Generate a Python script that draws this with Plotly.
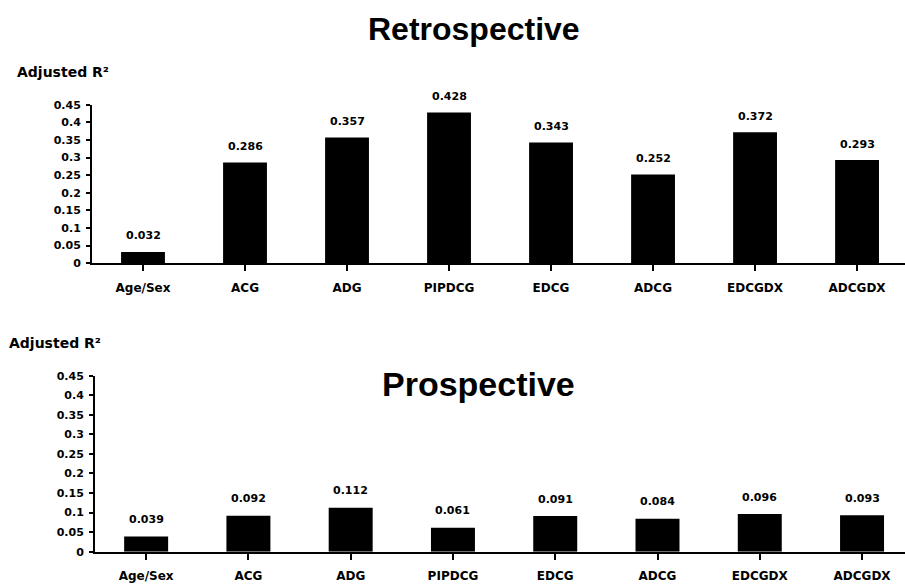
import plotly.graph_objects as go

categories = ["Age/Sex", "ACG", "ADG", "PIPDCG", "EDCG", "ADCG", "EDCGDX", "ADCGDX"]
retro_values = [0.032, 0.286, 0.357, 0.428, 0.343, 0.252, 0.372, 0.293]
retro_labels = ["0.032", "0.286", "0.357", "0.428", "0.343", "0.252", "0.372", "0.293"]
prosp_values = [0.039, 0.092, 0.112, 0.061, 0.091, 0.084, 0.096, 0.093]
prosp_labels = ["0.039", "0.092", "0.112", "0.061", "0.091", "0.084", "0.096", "0.093"]
y_tickvals = [0, 0.05, 0.1, 0.15, 0.2, 0.25, 0.3, 0.35, 0.4, 0.45]
y_ticktext = ["0", "0.05", "0.1", "0.15", "0.2", "0.25", "0.3", "0.35", "0.4", "0.45"]

W, H = 905, 588
small = dict(family="DejaVu Sans", size=11, color="black", weight="bold")
cat_font = dict(family="DejaVu Sans", size=12, color="black", weight="bold")

fig = go.Figure()
fig.add_trace(go.Bar(x=list(range(len(categories))), y=retro_values, marker=dict(color="black", line=dict(width=0)),
                     xaxis="x", yaxis="y", showlegend=False, hoverinfo="skip"))
fig.add_trace(go.Bar(x=list(range(len(categories))), y=prosp_values, marker=dict(color="black", line=dict(width=0)),
                     xaxis="x2", yaxis="y2", showlegend=False, hoverinfo="skip"))

def xaxis(domain_left, rng):
    return dict(domain=[domain_left / W, 1], range=rng, tickmode="array",
                tickvals=list(range(len(categories))), ticktext=categories,
                showline=True, linecolor="black", linewidth=2, ticks="outside",
                tickson="boundaries", ticklen=6, tickwidth=1.5, tickcolor="black",
                showgrid=False, zeroline=False, tickfont=cat_font, ticklabelstandoff=6,
                fixedrange=True)

def yaxis(y0px, y1px, anchor):
    return dict(domain=[1 - y0px / H, 1 - y1px / H], range=[0, 0.45], tickmode="array",
                tickvals=y_tickvals, ticktext=y_ticktext, showline=True, linecolor="black",
                linewidth=2, ticks="outside", ticklen=4, tickwidth=1.5, tickcolor="black",
                showgrid=False, zeroline=False, tickfont=small, anchor=anchor,
                ticklabelstandoff=3, fixedrange=True)

ann = []
for i, (v, t) in enumerate(zip(retro_values, retro_labels)):
    ann.append(dict(x=i, y=v, xref="x", yref="y", text=t, showarrow=False, yshift=16,
                    yanchor="middle", font=small))
for i, (v, t) in enumerate(zip(prosp_values, prosp_labels)):
    ann.append(dict(x=i, y=v, xref="x2", yref="y2", text=t, showarrow=False, yshift=17,
                    yanchor="middle", font=small))

title_font = dict(family="Liberation Sans", color="black", weight="bold")
ann.append(dict(x=474 / W, y=1 - 24 / H, xref="paper", yref="paper", text="Retrospective",
                showarrow=False, xanchor="center", yanchor="middle", font=dict(size=32, **title_font)))
ann.append(dict(x=479 / W, y=1 - 387 / H, xref="paper", yref="paper", text="Prospective",
                showarrow=False, xanchor="center", yanchor="middle", font=dict(size=34, **title_font)))
ann.append(dict(x=15 / W, y=1 - 67 / H, xref="paper", yref="paper", text="Adjusted R²",
                showarrow=False, xanchor="left", yanchor="middle",
                font=dict(family="DejaVu Sans", size=14, color="black", weight="bold")))
ann.append(dict(x=7 / W, y=1 - 345 / H, xref="paper", yref="paper", text="Adjusted R²",
                showarrow=False, xanchor="left", yanchor="middle",
                font=dict(family="DejaVu Sans", size=14, color="black", weight="bold")))

fig.update_layout(
    width=W, height=H, margin=dict(l=0, r=0, t=0, b=0),
    paper_bgcolor="white", plot_bgcolor="white", bargap=0.57,
    xaxis=xaxis(92, [-0.5, 7.47]),
    yaxis=yaxis(263, 101, "x"),
    xaxis2=dict(xaxis(95, [-0.5, 7.42]), anchor="y2"),
    yaxis2=yaxis(558, 378, "x2"),
    annotations=ann,
)
fig.update_layout(xaxis=dict(anchor="y"))

fig.write_html("out.html", config={"displayModeBar": False},
               post_script="document.body.style.margin='0';document.body.style.overflow='hidden';")
